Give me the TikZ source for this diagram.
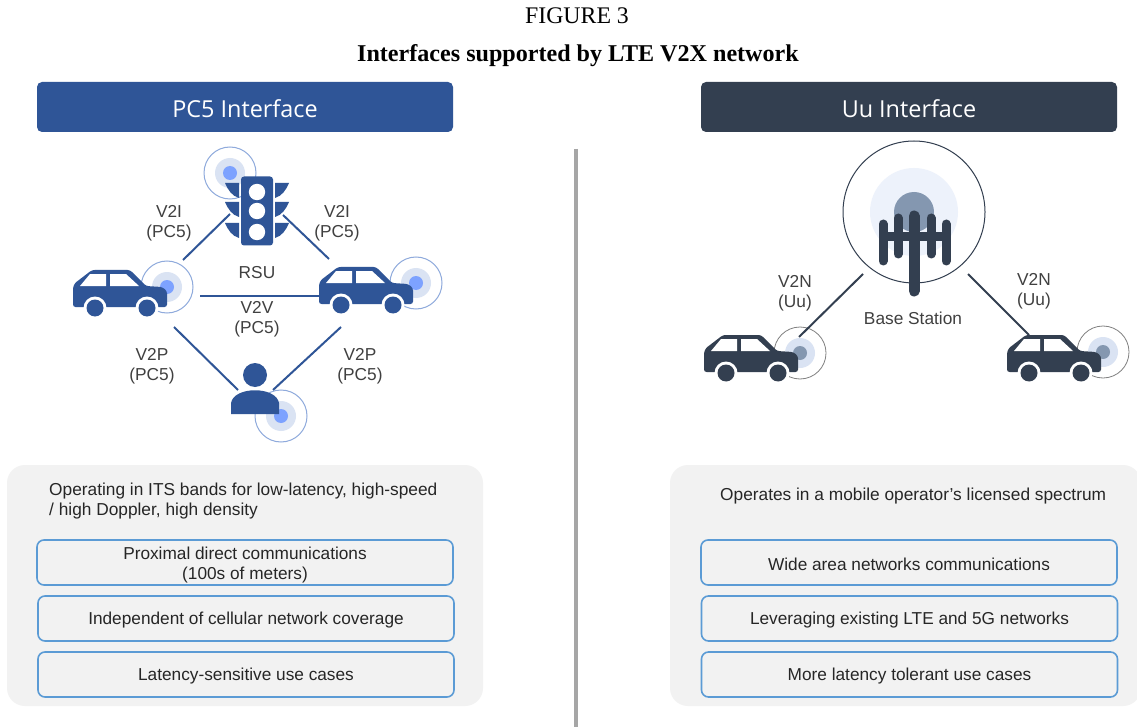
\documentclass[tikz,border=0pt]{standalone}
\usepackage{fontspec}
\setmainfont{Liberation Sans}
\newfontfamily\titlefont{Liberation Serif}
\newfontfamily\headfont{Open Sans}
\usepackage{xcolor}

\definecolor{pcblue}{HTML}{2F5597}
\definecolor{uudark}{HTML}{333F50}
\definecolor{uumid}{HTML}{8497B0}
\definecolor{halo}{HTML}{DAE3F3}
\definecolor{halobig}{HTML}{EDF2FB}
\definecolor{lamp}{HTML}{7DA2FF}
\definecolor{ringblue}{HTML}{8FAADC}
\definecolor{framed}{HTML}{5B9BD5}
\definecolor{panelgrey}{HTML}{F2F2F2}
\definecolor{txt}{HTML}{404040}

\newcommand{\droptext}[1]{\raisebox{-2.5pt}[\height][\depth]{#1}}

\tikzset{
    pics/car/.style={code={
        \fill[#1,rounded corners=2.5pt] (-47,19) -- (-47,-1) -- (-45,-5) -- (-28,-18) -- (10,-18) -- (26,-2) -- (42,-1) -- (47,3) -- (47,19) -- cycle;
        \fill[white] (-40,-2) -- (-30,-14) -- (-14,-14) -- (-14,-2) -- cycle;
        \fill[white] (-10,-14) -- (6,-14) -- (19,-2) -- (-10,-2) -- cycle;
        \foreach \wheelx in {-25,27} {
            \fill[white] (\wheelx,20) circle (11.5);
            \fill[#1] (\wheelx,20) circle (8.5);
        }
    }},
    pics/signal/.style n args={3}{code={
        \fill[halo] (0,0) circle (15);
        \fill[#1] (0,0) circle (7);
        \draw[#2,line width=#3] (0,0) circle (26);
    }},
    link/.style={line width=2pt},
    pclink/.style={link,pcblue},
    uulink/.style={link,uudark},
    tag/.style={align=center,text=txt,font=\fontsize{17.3}{20}\selectfont},
    headbox/.style={rounded corners=5pt,minimum width=416pt,minimum height=50pt,text=white,font=\headfont\fontsize{23.4}{25}\selectfont,execute at begin node=\rule{0pt}{21pt}},
    panel/.style={fill=panelgrey,rounded corners=18pt,minimum height=241pt},
    itembox/.style={draw=framed,line width=1.6pt,rounded corners=7pt,minimum width=416pt,minimum height=45pt,align=center,text=black!85,font=\fontsize{17.25}{20}\selectfont,execute at begin node=\rule{0pt}{16.4pt}},
    panelnote/.style={text=black!85,font=\fontsize{17.3}{20}\selectfont}
}

\begin{document}
\begin{tikzpicture}[x=1pt,y=-1pt]
    \useasboundingbox (0,0) rectangle (1137,727);
    \fill[white] (0,0) rectangle (1137,727);

    % title
    \node[font=\titlefont\fontsize{23.8}{25}\selectfont] (figno) at (577,16) {FIGURE 3};
    \node[font=\titlefont\bfseries\fontsize{24.1}{25}\selectfont] (figtitle) at (578,56) {Interfaces supported by LTE V2X network};

    % headers and divider
    \node[headbox,fill=pcblue] (pchead) at (245,107) {PC5 Interface};
    \node[headbox,fill=uudark] (uuhead) at (909,107) {Uu Interface};
    \coordinate (divtop) at (576,149);
    \coordinate (divbot) at (576,727);
    \draw[line width=4pt,black!35] (divtop) -- (divbot);

    % PC5 side
    \pic at (230,173) {signal={lamp}{ringblue}{1pt}};
    \pic at (167,287) {signal={lamp}{ringblue}{1pt}};
    \pic at (416,283) {signal={lamp}{ringblue}{1pt}};
    \pic at (281,416) {signal={lamp}{ringblue}{1pt}};
    \pic at (120,288) {car=pcblue};
    \pic at (366,285) {car=pcblue};

    \node[fill=pcblue,rounded corners=3pt,minimum width=32pt,minimum height=69pt,inner sep=0pt] (rsu) at (257,211) {};
    \foreach \lampy in {192,211,232} {
        \fill[white] (257,\lampy) circle (8.2);
        \fill[pcblue] (225,\lampy-9) -- (239,\lampy-9) -- (239,\lampy+6) .. controls (232,\lampy+4) and (228,\lampy-2) .. cycle;
        \fill[pcblue] (289,\lampy-9) -- (275,\lampy-9) -- (275,\lampy+6) .. controls (282,\lampy+4) and (286,\lampy-2) .. cycle;
    }
    \fill[pcblue] (255,375) circle (12);
    \fill[pcblue] (231,414) -- (231,403) .. controls (234,386) and (276,386) .. (279,403) -- (279,414) -- cycle;

    \coordinate (rsuL) at (230,214);
    \coordinate (rsuR) at (283,215);
    \coordinate (carLup) at (183,260);
    \coordinate (carRup) at (329,259);
    \coordinate (carLmid) at (200,296);
    \coordinate (carRmid) at (320,296);
    \coordinate (carLlow) at (174,327);
    \coordinate (carRlow) at (341,327);
    \coordinate (pedL) at (238,390);
    \coordinate (pedR) at (273,390);

    \path[pclink] (carLup) edge (rsuL);
    \path[pclink] (carRup) edge (rsuR);
    \path[pclink] (carLmid) edge (carRmid);
    \path[pclink] (carLlow) edge (pedL);
    \path[pclink] (carRlow) edge (pedR);

    \node[tag] (v2il) at (169,223) {V2I\\(PC5)};
    \node[tag] (v2ir) at (337,223) {V2I\\(PC5)};
    \node[tag] (rsulabel) at (257,273) {RSU};
    \node[tag] (v2v) at (257,319) {V2V\\(PC5)};
    \node[tag] (v2pl) at (152,366) {V2P\\(PC5)};
    \node[tag] (v2pr) at (360,366) {V2P\\(PC5)};

    % Uu side
    \fill[halobig] (914,212) circle (44);
    \fill[uumid] (914,212) circle (20);
    \node[draw=uudark,circle,line width=1pt,minimum size=142pt,inner sep=0pt] (bs) at (914,212) {};
    \pic at (800,353) {signal={uumid}{black!50}{0.8pt}};
    \pic at (1103,352) {signal={uumid}{black!50}{0.8pt}};
    \pic at (751,353) {car=uudark};
    \pic at (1054,353) {car=uudark};

    \foreach \mastx/\masttop/\mastbot in {883/224/261,898/218/254,931/218/254,946/224/261} {
        \draw[uudark,line width=9pt,line cap=round] (\mastx,\masttop) -- (\mastx,\mastbot);
    }
    \draw[uudark,line width=9pt] (883,237) -- (946,237);
    \draw[uudark,line width=11pt,line cap=round] (914,216) -- (914,291);

    \coordinate (bsL) at (863,274);
    \coordinate (bsR) at (968,274);
    \coordinate (uucarL) at (799,337);
    \coordinate (uucarR) at (1029,335);
    \path[uulink] (bsL) edge (uucarL);
    \path[uulink] (bsR) edge (uucarR);

    \node[tag] (v2nl) at (795,293) {V2N\\(Uu)};
    \node[tag] (v2nr) at (1034,291) {V2N\\(Uu)};
    \node[tag] (bslabel) at (913,318.5) {Base Station};

    % panels
    \node[panel,minimum width=476pt] (pcpanel) at (245,585.5) {};
    \node[panel,minimum width=471pt] (uupanel) at (905.5,585.5) {};

    \node[panelnote,align=left,anchor=west,inner sep=0pt] (pcnote) at (49,501.5) {Operating in ITS bands for low-latency, high-speed\\/ high Doppler, high density};
    \node[panelnote,anchor=west,inner sep=0pt] (uunote) at (720,496.5) {Operates in a mobile operator's licensed spectrum};

    \node[itembox] (pcitema) at (245,562.5) {\droptext{Proximal direct communications}\\\droptext{(100s of meters)}};
    \node[itembox] (pcitemb) at (246,618.5) {Independent of cellular network coverage};
    \node[itembox] (pcitemc) at (246,674.5) {Latency-sensitive use cases};

    \node[itembox] (uuitema) at (909,562.5) {Wide area networks communications};
    \node[itembox] (uuitemb) at (909.5,618.5) {Leveraging existing LTE and 5G networks};
    \node[itembox] (uuitemc) at (909.5,674.5) {More latency tolerant use cases};
\end{tikzpicture}
\end{document}
